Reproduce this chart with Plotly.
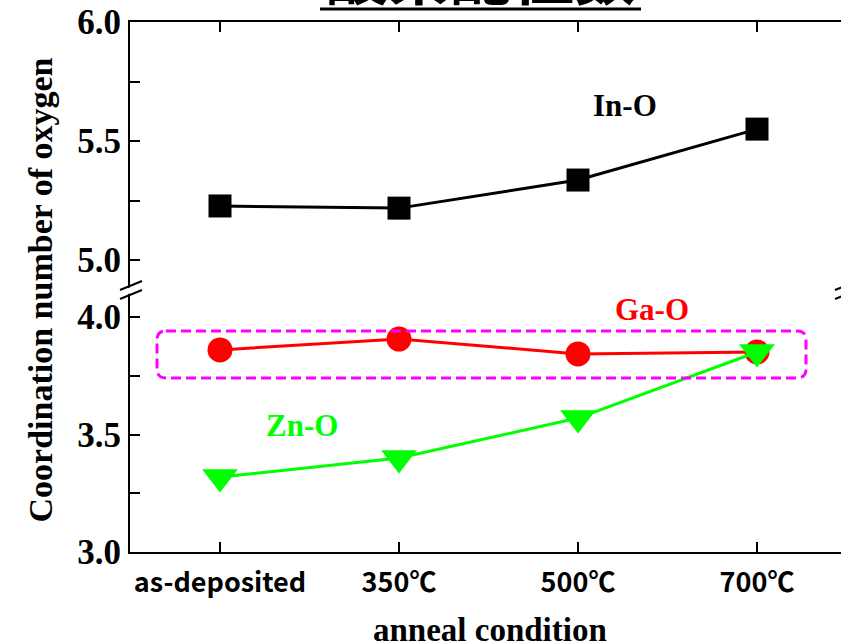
import plotly.graph_objects as go

# ---- data ----
categories = ["as-deposited", "350℃", "500℃", "700℃"]
cat_pos = [0, 1, 2, 3]
in_o = [5.227, 5.218, 5.336, 5.550]
ga_o = [3.860, 3.906, 3.843, 3.851]
zn_o = [3.319, 3.400, 3.570, 3.851]
upper_ticks = [5.0, 5.25, 5.5, 5.75, 6.0]
upper_text = ["5.0", "", "5.5", "", "6.0"]
lower_ticks = [3.0, 3.25, 3.5, 3.75, 4.0]
lower_text = ["3.0", "", "3.5", "", "4.0"]

W, H = 841, 644
L, R, T, B = 130, 841, 22, 552
BRK = 289


def px(x):
    return (x - L) / (R - L)


def py(y):
    return (B - y) / (B - T)


split = py(BRK)
serif = "Liberation Serif"
fig = go.Figure()

fig.add_trace(go.Scatter(x=cat_pos, y=in_o, xaxis="x2", yaxis="y2", mode="lines+markers",
                         line=dict(color="#000000", width=3),
                         marker=dict(symbol="square", size=23, color="#000000"),
                         showlegend=False))
fig.add_trace(go.Scatter(x=cat_pos, y=ga_o, xaxis="x", yaxis="y", mode="lines+markers",
                         line=dict(color="#FF0000", width=3),
                         marker=dict(symbol="circle", size=25, color="#FF0000"),
                         showlegend=False))
fig.add_trace(go.Scatter(x=cat_pos, y=zn_o, xaxis="x", yaxis="y", mode="lines+markers",
                         line=dict(color="#00FF00", width=3),
                         marker=dict(symbol="triangle-down", size=31, color="#00FF00"),
                         showlegend=False))

xr = [(L - 220) / 179, (R - 220) / 179]
lo_rng = [3.0, 4.0 + (317 - BRK) / 235]
up_rng = [5.0 - (BRK - 260) / 238, 6.0]

axis_common = dict(showgrid=False, zeroline=False, linecolor="black", linewidth=2,
                   ticks="inside", tickcolor="black", tickwidth=2)

fig.update_layout(
    width=W, height=H, margin=dict(l=L, r=W - R, t=T, b=H - B),
    paper_bgcolor="white", plot_bgcolor="white",
    xaxis=dict(domain=[0, 1], anchor="y", range=xr, tickvals=cat_pos, ticktext=categories,
               showline=True, ticklen=10, ticklabelstandoff=6,
               tickfont=dict(family="Noto Sans CJK JP", size=27, color="black", weight="bold"),
               **axis_common),
    xaxis2=dict(domain=[0, 1], anchor="y2", range=xr, side="top", tickvals=cat_pos,
                showticklabels=False, showline=True, ticklen=10, matches="x", **axis_common),
    yaxis=dict(domain=[0, split], anchor="x", range=lo_rng, tickvals=lower_ticks,
               ticktext=lower_text, showline=True, ticklen=10,
               tickfont=dict(family=serif, size=35, color="black", weight="bold"),
               **axis_common),
    yaxis2=dict(domain=[split, 1], anchor="x2", range=up_rng, tickvals=upper_ticks,
                ticktext=upper_text, showline=True, ticklen=10,
                tickfont=dict(family=serif, size=35, color="black", weight="bold"),
                **axis_common),
    yaxis3=dict(overlaying="y", anchor="x", side="right", range=lo_rng, tickvals=lower_ticks,
                showticklabels=False, showline=False, ticklen=6, showgrid=False, zeroline=False,
                ticks="inside", tickcolor="black", tickwidth=2),
    yaxis4=dict(overlaying="y2", anchor="x2", side="right", range=up_rng, tickvals=upper_ticks,
                showticklabels=False, showline=False, ticklen=6, showgrid=False, zeroline=False,
                ticks="inside", tickcolor="black", tickwidth=2),
)

ann = []
ann.append(dict(text="<b>In-O</b>", x=2.263, y=5.651, xref="x2", yref="y2", showarrow=False,
                font=dict(family=serif, size=31, color="black")))
ann.append(dict(text="<b>Ga-O</b>", x=2.413, y=4.03, xref="x", yref="y", showarrow=False,
                font=dict(family=serif, size=31, color="#FF0000")))
ann.append(dict(text="<b>Zn-O</b>", x=0.458, y=3.54, xref="x", yref="y", showarrow=False,
                font=dict(family=serif, size=31, color="#00FF00")))
ann.append(dict(text="<b>Coordination number of oxygen</b>", x=px(37), y=py(290),
                xref="paper", yref="paper", textangle=-90, xshift=-18, showarrow=False,
                font=dict(family=serif, size=34, color="black")))
ann.append(dict(text="<b>anneal condition</b>", x=px(490), y=py(630), xref="paper", yref="paper",
                yshift=-20, showarrow=False, font=dict(family=serif, size=33, color="black")))
ann.append(dict(text="<b>酸素配位数</b>", x=px(481), y=py(7), xref="paper", yref="paper",
                yanchor="bottom", yshift=-13, showarrow=False,
                font=dict(family="Noto Sans CJK JP", size=62, color="black")))
fig.update_layout(annotations=ann)

shapes = []
# title underline
shapes.append(dict(type="line", xref="paper", yref="paper", x0=px(320), x1=px(641),
                   y0=py(9), y1=py(9), line=dict(color="black", width=3)))
# axis break marks (left and right)
for off in (0, 715):
    mask = "M{},{} L{},{} L{},{} L{},{} Z".format(
        px(120 + off), py(291.5), px(142 + off), py(282.5),
        px(142 + off), py(288.5), px(120 + off), py(297.5))
    shapes.append(dict(type="path", xref="paper", yref="paper", path=mask,
                       fillcolor="white", line=dict(width=0), layer="above"))
    for dy in (0, 9):
        shapes.append(dict(type="line", xref="paper", yref="paper",
                           x0=px(120 + off), y0=py(290 + dy), x1=px(142 + off), y1=py(281 + dy),
                           line=dict(color="black", width=2), layer="above"))
# dashed highlight box around Ga-O
x0, x1 = (157 - 220) / 179, (806 - 220) / 179
y0, y1 = 4.0 - (378 - 317) / 235, 4.0 - (331 - 317) / 235
rx, ry = 9 / 179, 9 / 235
path = (f"M{x0+rx},{y1} L{x1-rx},{y1} Q{x1},{y1} {x1},{y1-ry} L{x1},{y0+ry} "
        f"Q{x1},{y0} {x1-rx},{y0} L{x0+rx},{y0} Q{x0},{y0} {x0},{y0+ry} "
        f"L{x0},{y1-ry} Q{x0},{y1} {x0+rx},{y1} Z")
shapes.append(dict(type="path", xref="x", yref="y", path=path, layer="above",
                   line=dict(color="#FF00FF", width=3, dash="10px,5px")))
fig.update_layout(shapes=shapes)

fig.write_html("out.html")
